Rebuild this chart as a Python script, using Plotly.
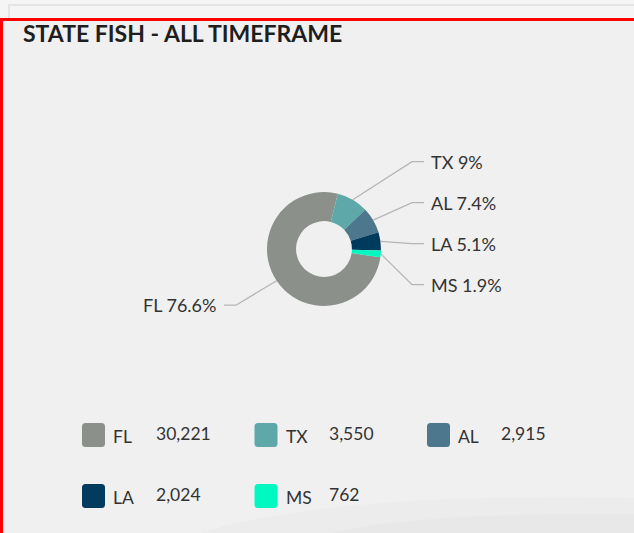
import math
import plotly.graph_objects as go

# ---- data ----
states = ["FL", "TX", "AL", "LA", "MS"]
counts = [30221, 3550, 2915, 2024, 762]
colors = ["#8b908b", "#5fa8a9", "#4d778c", "#003a5d", "#00f9c0"]
title_text = "STATE FISH - ALL TIMEFRAME"

W, H = 634, 533
CX, CY, R = 324, 249, 57        # donut centre / radius in px
HOLE = 0.49
ROT = 98.4                      # start angle of first slice (deg, clockwise from 12 o'clock)

total = sum(counts)
pcts = [c / total * 100 for c in counts]

def fmt_pct(p):
    s = f"{p:.1f}"
    if s.endswith(".0"):
        s = s[:-2]
    return s + "%"

fig = go.Figure()

# pixel-coordinate helper axes (hidden)
fig.update_layout(
    xaxis=dict(range=[0, W], visible=False, fixedrange=True, domain=[0, 1]),
    yaxis=dict(range=[H, 0], visible=False, fixedrange=True, domain=[0, 1]),
)

fig.add_trace(go.Pie(
    labels=states, values=counts, sort=False, direction="clockwise",
    rotation=ROT, hole=HOLE,
    marker=dict(colors=colors, line=dict(width=0)),
    textinfo="none", hoverinfo="label+value+percent", showlegend=False,
    domain=dict(x=[(CX - R) / W, (CX + R) / W],
                y=[(H - CY - R) / H, (H - CY + R) / H]),
))

# ---- outside labels with leader lines computed from slice angles ----
LEN1 = 44
ELBOW_DX = 88
LEN2 = 12
GAP = 41
labels_info = []
ang = ROT
for s, c, p in zip(states, counts, pcts):
    span = p / 100 * 360
    mid = math.radians(ang + span / 2)
    ang += span
    sx, sy = CX + R * math.sin(mid), CY - R * math.cos(mid)
    ey = CY - (R + LEN1) * math.cos(mid)
    side = 1 if math.sin(mid) >= 0 else -1
    labels_info.append(dict(name=s, pct=p, sx=sx, sy=sy, ey=ey, side=side))

for side in (1, -1):
    grp = sorted([l for l in labels_info if l["side"] == side], key=lambda l: l["ey"])
    for i in range(1, len(grp)):
        if grp[i]["ey"] < grp[i - 1]["ey"] + GAP:
            grp[i]["ey"] = grp[i - 1]["ey"] + GAP

shapes = []
annotations = []

# background decoration
shapes.append(dict(type="rect", xref="x", yref="y", x0=0, y0=0, x1=W, y1=19,
                   fillcolor="#f5f5f5", line=dict(width=0), layer="below"))
shapes.append(dict(type="path", xref="x", yref="y",
                   path=f"M 9 19 L 9 5 L {W} 5", line=dict(color="#e0e0e0", width=1.5),
                   layer="below"))
shapes.append(dict(type="path", xref="x", yref="y",
                   path=f"M 200 {H} Q 330 492 {W} 498 L {W} {H} Z",
                   fillcolor="#ececec", line=dict(width=0), layer="below"))
shapes.append(dict(type="path", xref="x", yref="y",
                   path=f"M 330 {H} Q 420 512 {W} 514 L {W} {H} Z",
                   fillcolor="#e8e8e8", line=dict(width=0), layer="below"))
shapes.append(dict(type="rect", xref="x", yref="y", x0=1.5, y0=19.5, x1=W + 5, y1=H + 5,
                   line=dict(color="#ff0000", width=3)))

for l in labels_info:
    ex = CX + l["side"] * ELBOW_DX
    tx = ex + l["side"] * LEN2
    shapes.append(dict(type="path", xref="x", yref="y",
                       path=f"M {l['sx']:.1f} {l['sy']:.1f} L {ex:.1f} {l['ey']:.1f} L {tx:.1f} {l['ey']:.1f}",
                       line=dict(color="#b5b5b5", width=1.3)))
    annotations.append(dict(
        xref="x", yref="y", x=tx + l["side"] * 5, y=l["ey"],
        text=f"{l['name']} {fmt_pct(l['pct'])}", showarrow=False,
        xanchor="left" if l["side"] > 0 else "right", yanchor="middle",
        font=dict(family="Lato", size=18, color="#333333"),
    ))

# ---- custom legend ----
LX0, LY0, COLW, ROWH, SQ = 82, 423, 172.5, 61, 23
for i, (s, c, col) in enumerate(zip(states, counts, colors)):
    x0 = LX0 + (i % 3) * COLW
    y0 = LY0 + (i // 3) * ROWH
    x1, y1 = x0 + SQ, y0 + SQ + 1
    r = 3.5
    path = (f"M {x0+r} {y0} L {x1-r} {y0} Q {x1} {y0} {x1} {y0+r} L {x1} {y1-r} "
            f"Q {x1} {y1} {x1-r} {y1} L {x0+r} {y1} Q {x0} {y1} {x0} {y1-r} "
            f"L {x0} {y0+r} Q {x0} {y0} {x0+r} {y0} Z")
    shapes.append(dict(type="path", xref="x", yref="y", path=path,
                       fillcolor=col, line=dict(width=0)))
    annotations.append(dict(xref="x", yref="y", x=x0 + 29, y=y0 + 13, text=s,
                            showarrow=False, xanchor="left", yanchor="middle",
                            font=dict(family="Lato", size=17.5, color="#333333")))
    annotations.append(dict(xref="x", yref="y", x=x0 + 72, y=y0 + 10, text=f"{c:,}",
                            showarrow=False, xanchor="left", yanchor="middle",
                            font=dict(family="Lato", size=17.5, color="#333333")))

# title
annotations.append(dict(xref="x", yref="y", x=21, y=33, text=f"<b>{title_text}</b>",
                        showarrow=False, xanchor="left", yanchor="middle",
                        font=dict(family="Lato", size=23, color="#1e1e1e")))

fig.update_layout(
    width=W, height=H, margin=dict(l=0, r=0, t=0, b=0),
    paper_bgcolor="#f0f0f0", plot_bgcolor="rgba(0,0,0,0)",
    shapes=shapes, annotations=annotations, showlegend=False,
)

fig.write_html("out.html", config={"displayModeBar": False},
               post_script="document.body.style.margin='0';document.body.style.overflow='hidden';")
